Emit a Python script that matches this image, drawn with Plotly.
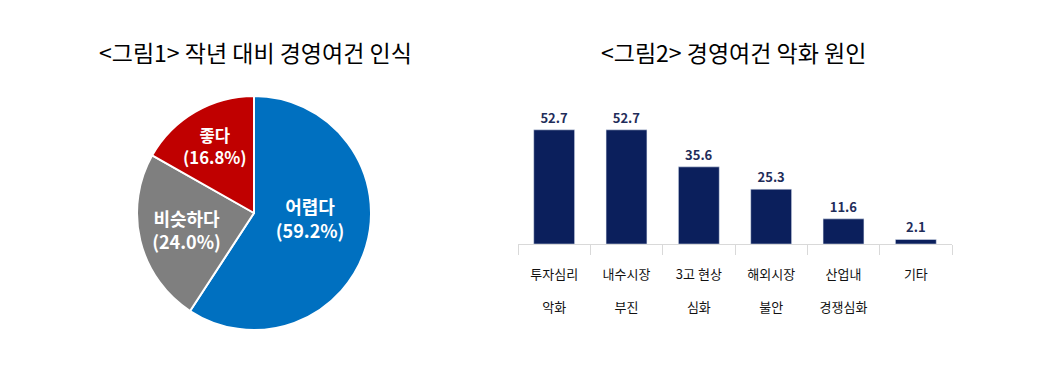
import plotly.graph_objects as go

pie_labels = ["어렵다", "비슷하다", "좋다"]
pie_values = [59.2, 24.0, 16.8]
pie_colors = ["#0070C0", "#7F7F7F", "#C00000"]

bar_categories = ["투자심리<br><br>악화", "내수시장<br><br>부진", "3고 현상<br><br>심화",
                  "해외시장<br><br>불안", "산업내<br><br>경쟁심화", "기타"]
bar_values = [52.7, 52.7, 35.6, 25.3, 11.6, 2.1]

title1 = "&lt;그림1&gt; 작년 대비 경영여건 인식"
title2 = "&lt;그림2&gt; 경영여건 악화 원인"

W, H = 1049, 370
FONT = "Noto Sans CJK KR"

base_tpl = "<b>%{label}<br>(%{value:.1f}%)</b>"
pie_templates = [base_tpl + "<br> ", base_tpl, base_tpl]

fig = go.Figure()

cx, cy, r = 254, 213, 117
fig.add_trace(go.Pie(
    labels=pie_labels, values=pie_values, sort=False, direction="clockwise",
    marker=dict(colors=pie_colors, line=dict(color="white", width=2)),
    texttemplate=pie_templates,
    textposition="inside", insidetextorientation="horizontal",
    textfont=dict(family=FONT, size=18, color="white"),
    domain=dict(x=[(cx - r) / W, (cx + r) / W],
                y=[(H - cy - r) / H, (H - cy + r) / H]),
    showlegend=False, hoverinfo="skip",
))

fig.add_trace(go.Bar(
    x=bar_categories, y=bar_values, marker_color="#0B1F5C",
    text=[f"{v:.1f}" for v in bar_values], textposition="outside",
    textfont=dict(family=FONT, size=13, color="#1F2D5A"),
    texttemplate="<b>%{text}</b>", cliponaxis=False,
    xaxis="x", yaxis="y", showlegend=False, hoverinfo="skip",
))

fig.update_layout(
    width=W, height=H, margin=dict(l=0, r=0, t=0, b=0),
    paper_bgcolor="white", plot_bgcolor="white",
    font=dict(family=FONT, color="black"),
    bargap=0.435,
    xaxis=dict(domain=[518 / W, 952 / W], showline=True, linecolor="#D9D9D9", linewidth=1,
               ticks="outside", tickson="boundaries", ticklen=10, tickcolor="#D9D9D9",
               tickfont=dict(family=FONT, size=13, color="#111111"),
               ticklabelstandoff=18, showgrid=False, zeroline=False, anchor="y"),
    yaxis=dict(domain=[(H - 244) / H, (H - 114) / H], range=[0, 60], visible=False),
    annotations=[
        dict(text=title1, x=255 / W, y=1 - 52 / H, xref="paper", yref="paper",
             xanchor="center", yanchor="middle",
             showarrow=False, font=dict(family=FONT, size=23, color="black")),
        dict(text=title2, x=733 / W, y=1 - 52 / H, xref="paper", yref="paper",
             xanchor="center", yanchor="middle",
             showarrow=False, font=dict(family=FONT, size=23, color="black")),
    ],
)

fig.write_html("out.html", config={"displayModeBar": False},
               post_script="document.body.style.margin='0';document.body.style.overflow='hidden';")
